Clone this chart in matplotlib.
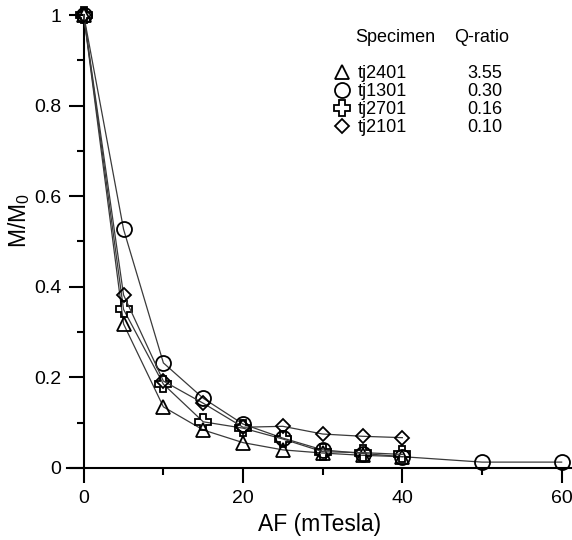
import matplotlib
matplotlib.use('Agg')
import matplotlib.pyplot as plt
from matplotlib.lines import Line2D
from matplotlib.ticker import MultipleLocator

plt.rcParams['font.family'] = ['Liberation Sans', 'DejaVu Sans']
plt.rcParams['mathtext.default'] = 'regular'

# ---- data ----
af = [0, 5, 10, 15, 20, 25, 30, 35, 40]
af_tj1301 = [0, 5, 10, 15, 20, 25, 30, 35, 40, 50, 60]
tj2401 = [1.0, 0.318, 0.135, 0.084, 0.056, 0.040, 0.033, 0.028, 0.025]
tj1301 = [1.0, 0.527, 0.232, 0.154, 0.097, 0.066, 0.040, 0.032, 0.025, 0.013, 0.013]
tj2701 = [1.0, 0.350, 0.185, 0.102, 0.088, 0.064, 0.036, 0.034, 0.030]
tj2101 = [1.0, 0.382, 0.192, 0.143, 0.090, 0.092, 0.075, 0.070, 0.067]
specimens = ['tj2401', 'tj1301', 'tj2701', 'tj2101']
q_ratios = ['3.55', '0.30', '0.16', '0.10']
xtick_vals = [0, 20, 40, 60]
xtick_labels = ['0', '20', '40', '60']
ytick_vals = [0, 0.2, 0.4, 0.6, 0.8, 1.0]
ytick_labels = ['0', '0.2', '0.4', '0.6', '0.8', '1']

W, H = 572, 540
fig = plt.figure(figsize=(W / 100, H / 100), dpi=100)
ax = fig.add_axes([67 / W, 1 - 468 / H, 505 / W, 453 / H])

series = [
    (af, tj2401, '^', 10.5),
    (af_tj1301, tj1301, 'o', 10.8),
    (af, tj2701, 'P', 11.0),
    (af, tj2101, 'D', 7.2),
]
proxies = []
for x, y, m, ms in series:
    ax.plot(x, y, color='#3a3a3a', lw=0.9, marker=m, ms=ms, mfc='none',
            mec='black', mew=1.3, clip_on=False, zorder=3)
    proxies.append(Line2D([], [], ls='none', marker=m, ms=ms, mfc='none',
                          mec='black', mew=1.3))

ax.set_xlim(-2.1, 61.3)
ax.set_ylim(0, 1.0)
ax.spines['top'].set_visible(False)
ax.spines['right'].set_visible(False)
ax.spines['left'].set_position(('data', 0))
for s in ('left', 'bottom'):
    ax.spines[s].set_linewidth(1.5)

ax.set_xticks(xtick_vals)
ax.set_xticklabels(xtick_labels)
ax.set_yticks(ytick_vals)
ax.set_yticklabels(ytick_labels)
ax.xaxis.set_minor_locator(MultipleLocator(10))
ax.yaxis.set_minor_locator(MultipleLocator(0.1))
ax.tick_params(which='major', direction='out', length=11, width=1.5,
               labelsize=14, pad=5)
ax.tick_params(which='minor', direction='out', length=5.3, width=1.5)

ax.set_xlabel('AF (mTesla)', fontsize=16.5, labelpad=4)
ax.set_ylabel('M/M$_0$', fontsize=16.5)
ax.yaxis.set_label_coords((32 - 67) / 505, (468 - 221) / 453)

# legend: header texts
fig.text(355 / W, 1 - 37 / H, 'Specimen', fontsize=13, va='center', ha='left')
fig.text(454 / W, 1 - 37 / H, 'Q-ratio', fontsize=13, va='center', ha='left')

leg1 = ax.legend(proxies, specimens, loc='upper left',
                 bbox_to_anchor=(333 / W, 1 - 65 / H),
                 bbox_transform=fig.transFigure, frameon=False, fontsize=13,
                 handlelength=1.0, handletextpad=0.35, labelspacing=0.06,
                 borderpad=0, borderaxespad=0)
ax.add_artist(leg1)
blank = [Line2D([], [], ls='none') for _ in q_ratios]
leg2 = ax.legend(blank, q_ratios, loc='upper left',
                 bbox_to_anchor=(467 / W, 1 - 65 / H),
                 bbox_transform=fig.transFigure, frameon=False, fontsize=13,
                 handlelength=0, handletextpad=0, labelspacing=0.06,
                 borderpad=0, borderaxespad=0)

fig.savefig('out.png', dpi=100)
